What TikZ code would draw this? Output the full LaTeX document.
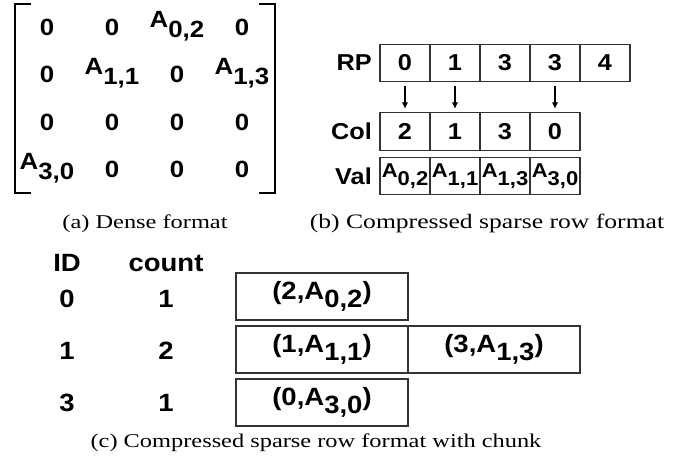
\documentclass[tikz,border=0pt]{standalone}
\usepackage{fontspec}
\newfontfamily\sansw[FakeStretch=1.1]{Liberation Sans}
\newfontfamily\serifw[FakeStretch=1.25]{Liberation Serif}
\usetikzlibrary{arrows.meta, positioning}
\newcommand{\Amid}[1]{\raisebox{0.3em}{A}\raisebox{-0.1em}{#1}}% A with index, centred
\newcommand{\Alow}[1]{A\raisebox{-0.33em}{#1}}% A with lowered index

\begin{document}
\begin{tikzpicture}[x=1pt, y=-1pt,
    entry/.style={font=\sansw\bfseries\fontsize{23.5}{23.5}\selectfont, anchor=base, inner sep=0},
    cell/.style={rectangle, draw=black!80, line width=1.2pt, minimum width=50pt, minimum height=37.5pt, inner sep=0, outer sep=0, font=\sansw\bfseries\fontsize{23}{23}\selectfont},
    valcell/.style={cell, font=\sansw\bfseries\fontsize{20}{20}\selectfont},
    rowname/.style={font=\sansw\bfseries\fontsize{23}{23}\selectfont, inner sep=0},
    chunk/.style={rectangle, draw=black!80, line width=1.2pt, minimum width=172pt, minimum height=47pt, inner sep=0, outer sep=0, font=\sansw\bfseries\fontsize{25}{25}\selectfont},
    headtext/.style={font=\sansw\bfseries\fontsize{25}{25}\selectfont, anchor=base, inner sep=0},
    capline/.style={font=\serifw\fontsize{19.5}{19.5}\selectfont, anchor=base, inner sep=0}]
    \useasboundingbox (0,0) rectangle (678,466);
    % =============== (a) dense matrix ====================
    \draw[line width=1.2pt] (31,4) -- (15,4) -- (15,193) -- (31,193);%left bracket
    \draw[line width=1.2pt] (259,4) -- (275,4) -- (275,193) -- (259,193);%right bracket
    \node (a00) [entry] at (47,35) {0};
    \node (a01) [entry] at (112,35) {0};
    \node (a02) [entry] at (177,35) {\Amid{0,2}};
    \node (a03) [entry] at (242,35) {0};
    \node (a10) [entry] at (47,82) {0};
    \node (a11) [entry] at (112,82) {\Amid{1,1}};
    \node (a12) [entry] at (177,82) {0};
    \node (a13) [entry] at (242,82) {\Amid{1,3}};
    \node (a20) [entry] at (47,130) {0};
    \node (a21) [entry] at (112,130) {0};
    \node (a22) [entry] at (177,130) {0};
    \node (a23) [entry] at (242,130) {0};
    \node (a30) [entry] at (47,177) {\Amid{3,0}};
    \node (a31) [entry] at (112,177) {0};
    \node (a32) [entry] at (177,177) {0};
    \node (a33) [entry] at (242,177) {0};
    \node (capa) [capline] at (145,228) {(a) Dense format};
    % =============== (b) CSR arrays ====================
    \node (rp0) [cell] at (405,63) {0};%row pointer
    \node (rp1) [cell, right=0 of rp0] {1};
    \node (rp2) [cell, right=0 of rp1] {3};
    \node (rp3) [cell, right=0 of rp2] {3};
    \node (rp4) [cell, right=0 of rp3] {4};
    \node (rp) [rowname, left=8pt of rp0] {RP};
    \node (col0) [cell, below=31pt of rp0] {2};%column index
    \node (col1) [cell, right=0 of col0] {1};
    \node (col2) [cell, right=0 of col1] {3};
    \node (col3) [cell, right=0 of col2] {0};
    \node (col) [rowname, left=8pt of col0] {Col};
    \node (val0) [valcell, below=7pt of col0] {\Amid{0,2}};%values
    \node (val1) [valcell, right=0 of val0] {\Amid{1,1}};
    \node (val2) [valcell, right=0 of val1] {\Amid{1,3}};
    \node (val3) [valcell, right=0 of val2] {\Amid{3,0}};
    \node (val) [rowname, left=8pt of val0] {Val};
    \draw[-{Latex[length=6.5pt,width=6.5pt]}, line width=1.1pt, shorten <=4pt, shorten >=4pt] (rp0) -- (col0);
    \draw[-{Latex[length=6.5pt,width=6.5pt]}, line width=1.1pt, shorten <=4pt, shorten >=4pt] (rp1) -- (col1);
    \draw[-{Latex[length=6.5pt,width=6.5pt]}, line width=1.1pt, shorten <=4pt, shorten >=4pt] (rp3) -- (col3);
    \node (capb) [capline, font=\serifw\fontsize{20.5}{20.5}\selectfont] at (487,228) {(b) Compressed sparse row format};
    % =============== (c) CSR with chunks ====================
    \node (id) [headtext] at (67,271) {ID};
    \node (count) [headtext] at (166,271) {count};
    \node (ch0) [chunk] at (322,296.5) {(2,\Alow{0,2})};
    \node (ch1) [chunk, below=6pt of ch0] {(1,\Alow{1,1})};
    \node (ch1b) [chunk, right=0 of ch1] {(3,\Alow{1,3})};
    \node (ch3) [chunk, below=6pt of ch1] {(0,\Alow{3,0})};
    \node (id0) [headtext] at (67,307) {0};
    \node (cnt0) [headtext] at (166,307) {1};
    \node (id1) [headtext] at (67,359) {1};
    \node (cnt1) [headtext] at (166,359) {2};
    \node (id3) [headtext] at (67,411) {3};
    \node (cnt3) [headtext] at (166,411) {1};
    \node (capc) [capline] at (316,447) {(c) Compressed sparse row format with chunk};
\end{tikzpicture}
\end{document}
